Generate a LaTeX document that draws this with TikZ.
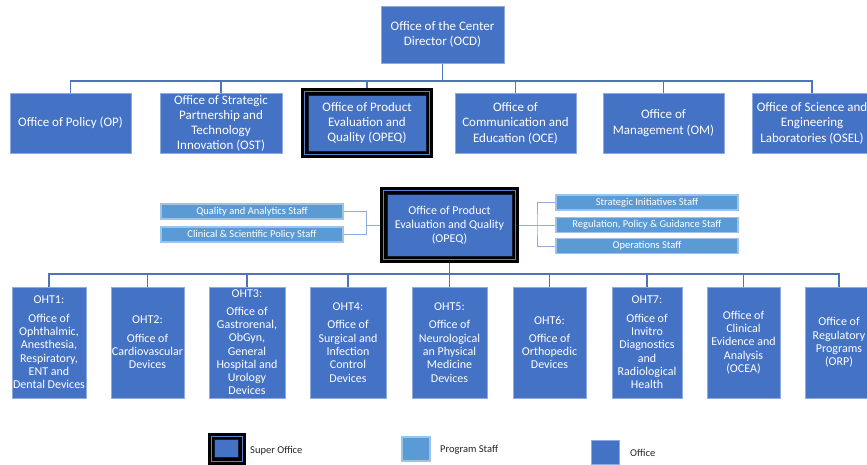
\documentclass[tikz,border=0pt]{standalone}
\usepackage{fontspec}
\setmainfont{Carlito}
\usetikzlibrary{calc}
\definecolor{offblue}{HTML}{4472C4}
\definecolor{staffblue}{HTML}{5B9BD5}
\definecolor{staffedge}{HTML}{9DC3E6}
\definecolor{offedge}{HTML}{8FAADC}
\definecolor{linkblue}{HTML}{4F74BA}
\definecolor{frameline}{HTML}{5B82CC}
\pgfdeclarelayer{bgfill}
\pgfdeclarelayer{conn}
\pgfdeclarelayer{frame}
\pgfsetlayers{bgfill,conn,frame,main}
\tikzset{
 office/.style={fill=offblue, draw=offedge, line width=0.8pt, text=white, align=center, inner sep=0pt, font=\fontsize{13}{15.5}\selectfont},
 topbox/.style={office, minimum height=60pt},
 oht/.style={office, minimum height=111pt, font=\fontsize{12}{13.3}\selectfont},
 superbox/.style={fill=offblue, draw=black!75!offblue, line width=1pt, text=white, align=center, inner sep=0pt},
 staffbox/.style={fill=staffblue, draw=staffedge, line width=1.2pt, text=white, align=center, inner sep=0pt, minimum width=182pt, minimum height=15pt, font=\fontsize{10.5}{12}\selectfont},
 link/.style={draw=linkblue, line width=1.4pt},
 bracket/.style={draw=offedge, line width=1pt},
 legtext/.style={text=black!85, font=\fontsize{10.5}{12}\selectfont, anchor=west, inner sep=0pt}
}
\newcommand\superframe[1]{%
 \begin{pgfonlayer}{frame}
 \fill[black] ([shift={(-6.5pt,6.5pt)}]#1.north west) rectangle ([shift={(6.5pt,-6.5pt)}]#1.south east);
 \draw[frameline, line width=1pt] ([shift={(-3pt,3pt)}]#1.north west) rectangle ([shift={(3pt,-3pt)}]#1.south east);
 \end{pgfonlayer}}
\begin{document}
\begin{tikzpicture}[x=1pt,y=-1pt]
\useasboundingbox (0,0) rectangle (867,464);
\begin{pgfonlayer}{bgfill}
\fill[white] (0,0) rectangle (867,464);
\end{pgfonlayer}

% top level
\node[office, minimum width=123pt, minimum height=57pt] (ocd) at (442.5,34.5) {Office of the Center\\Director (OCD)};
\node[topbox, minimum width=121pt] (op) at (70.5,123) {Office of Policy (OP)};
\node[topbox, minimum width=122pt, font=\fontsize{13}{15}\selectfont] (ost) at (221,123) {Office of Strategic\\Partnership and\\Technology\\Innovation (OST)};
\node[superbox, font=\fontsize{13}{15}\selectfont, minimum width=118pt, minimum height=56pt] (opeq) at (367,123) {Office of Product\\Evaluation and\\Quality (OPEQ)};
\superframe{opeq}
\node[topbox, minimum width=121pt] (oce) at (515.5,123) {Office of\\Communication and\\Education (OCE)};
\node[topbox, minimum width=121pt] (om) at (663.5,123) {Office of\\Management (OM)};
\node[topbox, minimum width=120pt] (osel) at (812,123) {Office of Science and\\Engineering\\Laboratories (OSEL)};

\coordinate (tb) at (442.5,81);
\begin{pgfonlayer}{conn}
\draw[link] (ocd.south) -- (tb);
\foreach \n in {op,ost,opeq,oce,om,osel} \draw[link] (tb) -| (\n.north);
\end{pgfonlayer}

% OPEQ detail
\node[superbox, font=\fontsize{12}{14}\selectfont, minimum width=125pt, minimum height=62pt] (opeq2) at (449.5,225) {Office of Product\\Evaluation and Quality\\(OPEQ)};
\superframe{opeq2}
\node[staffbox] (qas) at (252,211.5) {Quality and Analytics Staff};
\node[staffbox] (csp) at (252,234.5) {Clinical \& Scientific Policy Staff};
\node[staffbox] (sis) at (647,202.5) {Strategic Initiatives Staff};
\node[staffbox] (rpg) at (647,225) {Regulation, Policy \& Guidance Staff};
\node[staffbox] (ops) at (647,246) {Operations Staff};
\coordinate (lj) at (366.5,225);
\coordinate (rj) at (537,225);
\begin{pgfonlayer}{conn}
\draw[bracket] (qas.east) -| (lj) |- (csp.east);
\draw[bracket] (lj) -- (opeq2.west);
\draw[bracket] (sis.west) -| (rj) |- (ops.west);
\draw[bracket] (opeq2.east) -- (rpg.west);
\end{pgfonlayer}

% bottom offices
\node[oht, minimum width=74pt] (oht1) at (49,342.5) {OHT1:\\[5pt]Office of\\Ophthalmic,\\Anesthesia,\\Respiratory,\\ENT and\\Dental Devices};
\node[oht, minimum width=73pt] (oht2) at (147.5,342.5) {OHT2:\\[5pt]Office of\\Cardiovascular\\Devices};
\node[oht, minimum width=76pt] (oht3) at (247,342.5) {OHT3:\\[4pt]Office of\\Gastrorenal,\\ObGyn,\\General\\Hospital and\\Urology\\Devices};
\node[oht, minimum width=76pt] (oht4) at (348,342.5) {OHT4:\\[5pt]Office of\\Surgical and\\Infection\\Control\\Devices};
\node[oht, minimum width=75pt] (oht5) at (449.5,342.5) {OHT5:\\[5pt]Office of\\Neurological\\an Physical\\Medicine\\Devices};
\node[oht, minimum width=73pt] (oht6) at (549.5,342.5) {OHT6:\\[5pt]Office of\\Orthopedic\\Devices};
\node[oht, minimum width=70pt] (oht7) at (647,342.5) {OHT7:\\[5pt]Office of\\Invitro\\Diagnostics\\and\\Radiological\\Health};
\node[oht, minimum width=73pt] (ocea) at (743.5,342.5) {Office of\\Clinical\\Evidence and\\Analysis\\(OCEA)};
\node[oht, minimum width=68pt] (orp) at (839,342.5) {Office of\\Regulatory\\Programs\\(ORP)};
\coordinate (bb) at (449.5,274);
\begin{pgfonlayer}{conn}
\draw[link] (opeq2.south) -- (bb);
\foreach \n in {oht1,oht2,oht3,oht4,oht5,oht6,oht7,ocea,orp} \draw[link] (bb) -| (\n.north);
\end{pgfonlayer}

% legend
\node[superbox, minimum width=24pt, minimum height=18pt] (legsuper) at (226.5,448.5) {};
\superframe{legsuper}
\node[legtext] (lsupt) at (250,451) {Super Office};
\node[staffbox, minimum width=28pt, minimum height=24pt] (legstaff) at (416,449) {};
\node[legtext] (lstafft) at (440,450) {Program Staff};
\node[office, minimum width=28pt, minimum height=24pt] (legoffice) at (605,452) {};
\node[legtext] (lofft) at (630,453) {Office};
\end{tikzpicture}
\end{document}
